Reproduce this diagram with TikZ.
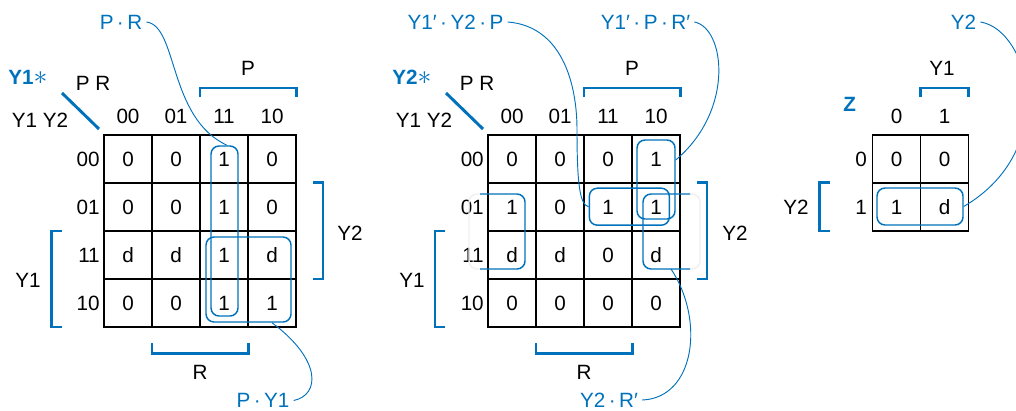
\documentclass[tikz,border=0pt]{standalone}
\usepackage{fontspec}
\setmainfont{Liberation Sans}
\usetikzlibrary{calc}
\definecolor{kblue}{RGB}{0,114,188}
\newdimen\px \px=0.75pt
\begin{document}
\begin{tikzpicture}[x=0.75pt,y=-0.75pt,
  every node/.style={font=\fontsize{15.5}{18}\selectfont, inner sep=0pt},
  cell/.style={draw=black, line width=1.2pt, minimum size=48\px},
  brk/.style={draw=kblue, line width=2.2pt, line join=miter},
  diag/.style={draw=kblue, line width=2.2pt},
  loopbox/.style={draw=kblue, line width=1.1pt, rounded corners=6pt},
  loopline/.style={draw=kblue, line width=1.1pt, rounded corners=6pt},
  faint/.style={draw=gray!12, line width=1.1pt, rounded corners=6pt},
  lbl/.style={text=kblue, inner sep=3pt},
  conn/.style={draw=kblue, line width=0.7pt},
  ttl/.style={text=kblue, anchor=west}
]
\useasboundingbox (0,0) rectangle (1016,410);

% ================= Left map (Y1*) =================
\foreach \row [count=\r] in {{0,0,1,0},{0,0,1,0},{d,d,1,d},{0,0,1,1}} {
  \foreach \v [count=\c] in \row {
    \node[cell] (L-\r-\c) at ({104+48*\c-24},{135+48*\r-24}) {\v};
  }
}
\foreach \t [count=\c] in {00,01,11,10} {
  \node (LC-\c) at ({104+48*\c-24},116) {\t};
  \node[anchor=east] (LR-\c) at (100,{135+48*\c-24}) {\t};
}
\node[ttl] (LT) at (8,77) {\textbf{Y1}{\fontsize{20}{20}\selectfont$\ast$}};
\node (LPR) at (93,83) {P R};
\node (LYY) at (40,120) {Y1 Y2};
\draw[diag] (62,93) -- (99,129);
\draw[brk] (200,97) -- (200,88) -- (296.5,88) -- (296.5,97);
\node (LP) at (248,68) {P};
\draw[brk] (313,182.5) -- (323,182.5) -- (323,279) -- (313,279);
\node (LY2) at (350,233) {Y2};
\draw[brk] (61.5,231) -- (51.5,231) -- (51.5,327) -- (61.5,327);
\node (LY1) at (28,280) {Y1};
\draw[brk] (152,343) -- (152,353.5) -- (248.5,353.5) -- (248.5,343);
\node (LR) at (200,372) {R};

\node[loopbox, minimum width=27\px, minimum height=170\px] (lpr) at (224.5,231) {};
\node[loopbox, minimum width=85\px, minimum height=85\px] (lpy) at (248.5,279.5) {};

\node[lbl] (tPR) at (121,22) {P\,·\,R};
\node[lbl] (tPY) at (263,400.5) {P\,·\,Y1};
\draw[conn] (tPR.east) .. controls (178,26) and (168,118) .. ($(lpr.north)+(2.5,0)$);
\draw[conn] (tPY.east) .. controls (320,395) and (322,360) .. ($(lpy.south)+(23.5,0)$);

% ================= Middle map (Y2*) =================
\foreach \row [count=\r] in {{0,0,0,1},{1,0,1,1},{d,d,0,d},{0,0,0,0}} {
  \foreach \v [count=\c] in \row {
    \node[cell] (M-\r-\c) at ({488+48*\c-24},{135+48*\r-24}) {\v};
  }
}
\foreach \t [count=\c] in {00,01,11,10} {
  \node (MC-\c) at ({488+48*\c-24},116) {\t};
  \node[anchor=east] (MR-\c) at (484,{135+48*\c-24}) {\t};
}
\node[ttl] (MT) at (392,77) {\textbf{Y2}{\fontsize{20}{20}\selectfont$\ast$}};
\node (MPR) at (477,83) {P R};
\node (MYY) at (424,120) {Y1 Y2};
\draw[diag] (446,93) -- (483,129);
\draw[brk] (584,97) -- (584,88) -- (680.5,88) -- (680.5,97);
\node (MP) at (632,68) {P};
\draw[brk] (697,182.5) -- (707,182.5) -- (707,279) -- (697,279);
\node (MY2) at (735,233) {Y2};
\draw[brk] (445,231) -- (435,231) -- (435,327) -- (445,327);
\node (MY1) at (412,280) {Y1};
\draw[brk] (536,343) -- (536,353.5) -- (632.5,353.5) -- (632.5,343);
\node (MR) at (584,372) {R};

\node[loopbox, minimum width=38\px, minimum height=79\px] (lypr) at (656,179.5) {};
\node[loopbox, minimum width=80\px, minimum height=37\px] (lyyp) at (629.3,206.7) {};
% wrap-around loop Y2.R'
\draw[faint] (690,194) -- (700,194) -- (700,269) -- (690,269);
\draw[faint] (480,194) -- (469,194) -- (469,269) -- (480,269);
\draw[loopline] (690,194) -- (643,194) -- (643,269) -- (690,269);
\draw[loopline] (480,194) -- (525,194) -- (525,269) -- (480,269);
\coordinate (wrapR) at (671,269);

\node[lbl] (tYYP) at (455.5,22) {Y1′\,·\,Y2\,·\,P};
\node[lbl] (tYPR) at (645.5,22) {Y1′\,·\,P\,·\,R′};
\node[lbl] (tYR) at (609,400) {Y2\,·\,R′};
\draw[conn] (tYYP.east) .. controls (560,26) and (577,80) .. (577,130)
  .. controls (577,185) and (580,205) .. (lyyp.west);
\draw[conn] (tYPR.east) .. controls (725,28) and (735,110) .. ($(lypr.east)+(0,-19.5)$);
\draw[conn] (tYR.east) .. controls (695,398) and (705,320) .. (wrapR);

% ================= Right map (Z) =================
\foreach \row [count=\r] in {{0,0},{1,d}} {
  \foreach \v [count=\c] in \row {
    \node[cell] (R-\r-\c) at ({872.5+48*\c-24},{135+48*\r-24}) {\v};
  }
}
\foreach \t [count=\c] in {0,1} {
  \node (RC-\c) at ({872.5+48*\c-24},116) {\t};
  \node[anchor=east] (RR-\c) at (867,{135+48*\c-24}) {\t};
}
\node[ttl] (RT) at (843,104.5) {\textbf{Z}};
\draw[brk] (920.5,97) -- (920.5,88) -- (968.5,88) -- (968.5,97);
\node (RY1) at (942,68) {Y1};
\draw[brk] (830,182.5) -- (819.5,182.5) -- (819.5,231) -- (830,231);
\node (RY2) at (796,207) {Y2};

\node[loopbox, minimum width=86\px, minimum height=37\px] (lz) at (920,206.5) {};
\node[lbl] (tZ) at (963.5,22) {Y2};
\draw[conn] (tZ.east) .. controls (1030,30) and (1060,150) .. (lz.east);
\end{tikzpicture}
\end{document}
